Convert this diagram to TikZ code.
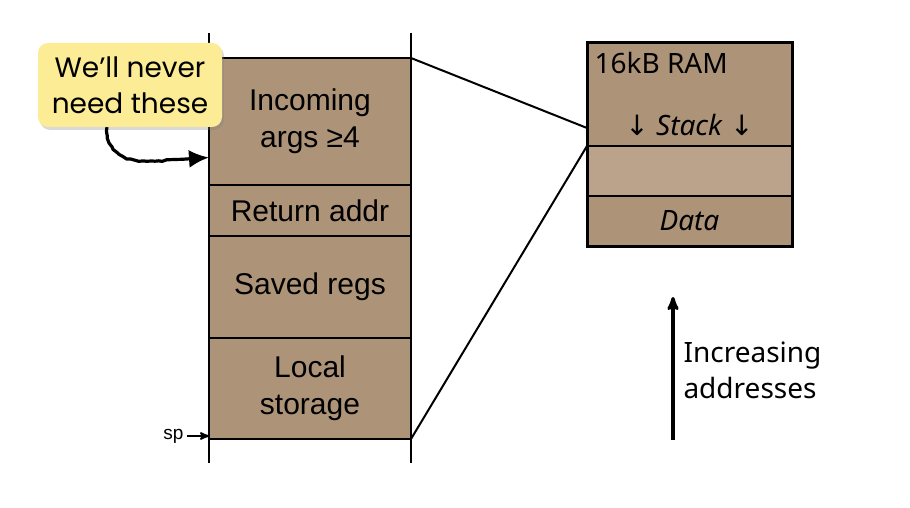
\documentclass[tikz,border=0pt]{standalone}
\usepackage{fontspec}
\setmainfont{Liberation Sans}
\newfontfamily\ramfont{Noto Sans}
\newfontfamily\chalkfont{Poppins}
\newfontfamily\arrowfont{DejaVu Sans}
\definecolor{stackbrown}{RGB}{173,148,121}
\definecolor{gapbrown}{RGB}{187,163,139}
\definecolor{noteyellow}{RGB}{252,236,150}
\usetikzlibrary{positioning,arrows,arrows.meta,shadows,decorations.pathmorphing}

\begin{document}
\begin{tikzpicture}[x=1pt,y=-1pt,>=stealth',node distance=0pt,
    frame cell/.style={draw,fill=stackbrown,line width=2pt,outer sep=0pt,minimum width=202pt,inner sep=0pt,align=center,font=\fontsize{30}{37}\selectfont},
    ram cell/.style={draw,fill=stackbrown,line width=2pt,outer sep=0pt,minimum width=205pt,inner sep=0pt,align=center,font=\ramfont\itshape\fontsize{28}{36}\selectfont}]
  \useasboundingbox (0,0) rectangle (910,508);
  % stack frame
  \node[frame cell,minimum height=127pt,anchor=north west] (args) at (209,58) {Incoming\\args ≥4};
  \node[frame cell,minimum height=51pt,below=of args] (ret) {Return addr};
  \node[frame cell,minimum height=102pt,below=of ret] (saved) {Saved regs};
  \node[frame cell,minimum height=101pt,below=of saved] (local) {Local\\storage};
  \draw[line width=2pt] ([yshift=25pt]args.north west) -- ([yshift=-24pt]local.south west)
    ([yshift=25pt]args.north east) -- ([yshift=-24pt]local.south east);
  \coordinate (sptip) at ([yshift=3pt]local.south west);
  \node[font=\fontsize{19}{22}\selectfont,left=22pt of sptip] (sp) {sp};
  \draw[->,line width=2pt] (sp) -- (sptip);

  % RAM map
  \node[ram cell,minimum height=103pt,anchor=north west] (stack) at (587,43) {};
  \node[ram cell,fill=gapbrown,minimum height=50pt,below=of stack] (gap) {};
  \node[ram cell,minimum height=50pt,below=of gap] (data) {Data};
  \draw[line width=3pt] (stack.north west) rectangle (data.south east);
  \node[anchor=north west,font=\ramfont\fontsize{28}{32}\selectfont] (ramlabel) at ([shift={(4pt,-6pt)}]stack.north west) {16kB RAM};
  \node[font=\ramfont\fontsize{28}{32}\selectfont] (stacklabel) at ([yshift=21pt]stack.south) {{\arrowfont↓} \textit{Stack} {\arrowfont↓}};
  \draw[line width=2pt] (args.north east) -- ([yshift=18pt]stack.south west)
    (local.south east) -- (gap.north west);

  % addresses
  \coordinate (lo) at (673,440);
  \coordinate (hi) at (673,297);
  \draw[->,line width=3.2pt] (lo) -- (hi);
  \node[anchor=west,align=left,font=\ramfont\fontsize{28}{36}\selectfont] (incr) at (680,370) {Increasing\\addresses};

  % callout
  \node[fill=noteyellow,rounded corners=10pt,drop shadow={opacity=0.3,shadow xshift=2pt,shadow yshift=-3pt},
    minimum width=184pt,minimum height=84pt,align=center,font=\chalkfont\fontsize{28}{36}\selectfont] (note) at (130,85) {We’ll never\\need these};
  \coordinate (hook) at ([yshift=-36pt]args.west);
  \draw[line width=3.2pt,-{Latex[length=20pt,width=18pt]},decorate,
    decoration={random steps,segment length=4pt,amplitude=.8pt,post length=18pt}]
    ([xshift=-23pt]note.south) .. controls +(0,45) and +(-55,3) .. (hook);
\end{tikzpicture}
\end{document}
